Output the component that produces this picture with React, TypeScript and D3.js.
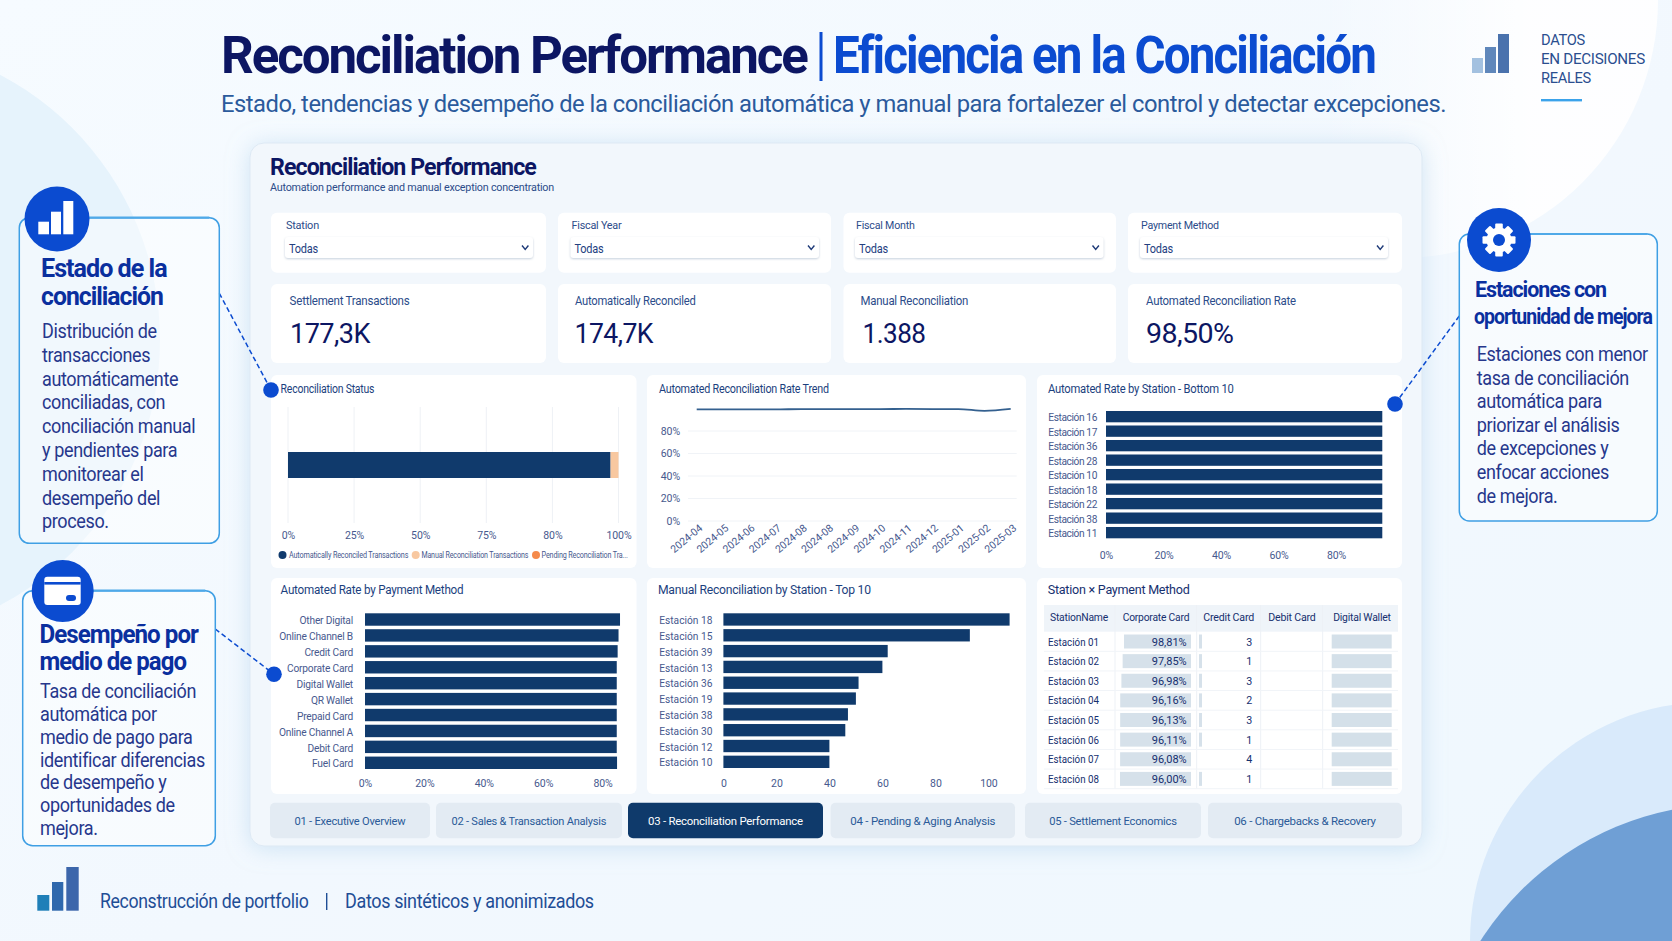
import React, { useEffect, useLayoutEffect, useRef } from 'react';
import * as d3 from 'd3';

const FONT = "Roboto, 'Noto Sans', sans-serif";
const NAVY = '#0c1663';
const BLUE = '#0b4bd0';
const BAR = '#103a6c';
const AXIS = '#47598e';
const INK = '#1f3f7c';

// filters and kpis
const filterLabels = ['Station', 'Fiscal Year', 'Fiscal Month', 'Payment Method'];
const filterValue = 'Todas';
const kpiLabels = ['Settlement Transactions', 'Automatically Reconciled', 'Manual Reconciliation', 'Automated Reconciliation Rate'];
const kpiValues = ['177,3K', '174,7K', '1.388', '98,50%'];

// reconciliation status
const statusKeys = ['Automatically Reconciled Transactions', 'Manual Reconciliation Transactions', 'Pending Reconciliation Tra...'];
const statusValues = [97.6, 2.4, 0];
const statusColors = ['#103a6c', '#f8c8a0', '#f58a4b'];
const statusTicks = [0, 20, 40, 60, 80, 100];
const statusTickLabels = ['0%', '25%', '50%', '75%', '80%', '100%'];

// trend
const trendMonths = ['2024-04', '2024-05', '2024-06', '2024-07', '2024-08', '2024-08', '2024-09', '2024-10', '2024-11', '2024-12', '2025-01', '2025-02', '2025-03'];
const trendRates = [99.3, 99.2, 99.2, 99.2, 99.5, 99.5, 99.5, 99.5, 99.6, 99.5, 99.5, 97.9, 99.6];
const trendTicks = [0, 20, 40, 60, 80];

// bar charts
const bottomStations = ['Estación 16', 'Estación 17', 'Estación 36', 'Estación 28', 'Estación 10', 'Estación 18', 'Estación 22', 'Estación 38', 'Estación 11'];
const bottomRates = [96.1, 96.1, 96.1, 96.1, 96.1, 96.1, 96.1, 96.1, 96.1];
const paymentMethods = ['Other Digital', 'Online Channel B', 'Credit Card', 'Corporate Card', 'Digital Wallet', 'QR Wallet', 'Prepaid Card', 'Online Channel A', 'Debit Card', 'Fuel Card'];
const paymentRates = [85.9, 85.4, 85.1, 84.8, 84.8, 84.8, 84.8, 84.8, 84.8, 84.9];
const manualStations = ['Estación 18', 'Estación 15', 'Estación 39', 'Estación 13', 'Estación 36', 'Estación 19', 'Estación 38', 'Estación 30', 'Estación 12', 'Estación 10'];
const manualCounts = [108, 93, 62, 60, 51, 50, 47, 46, 40, 40];

// table
const tableHeaders = ['StationName', 'Corporate Card', 'Credit Card', 'Debit Card', 'Digital Wallet'];
const tableStations = ['Estación 01', 'Estación 02', 'Estación 03', 'Estación 04', 'Estación 05', 'Estación 06', 'Estación 07', 'Estación 08'];
const corporateRates = [98.81, 97.85, 96.98, 96.16, 96.13, 96.11, 96.08, 96.0];
const creditCounts = [3, 1, 3, 2, 3, 1, 4, 1];
const creditBars = [1, 1, 1, 1, 1, 1, 0, 1];
const digitalBars = [1, 1, 1, 1, 1, 1, 1, 1];

const tabLabels = ['01 - Executive Overview', '02 - Sales & Transaction Analysis', '03 - Reconciliation Performance', '04 - Pending & Aging Analysis', '05 - Settlement Economics', '06 - Chargebacks & Recovery'];

const fmtPct = (v: number) => v.toFixed(2).replace('.', ',') + '%';

// squeeze a text horizontally to the width it has in the reference
const fitText = (el: SVGTextElement, x: number, y: number, w: number, anchor = 'start') => {
    const len = el.getComputedTextLength();
    const dx = anchor === 'end' ? x - w : x;
    el.setAttribute('text-anchor', 'start');
    el.setAttribute('transform', `translate(${dx},${y}) scale(${w / len},1)`);
};

const Txt = ({ x, y, size, w, fill = INK, weight = 400, tight = 0.02, children }: any) => {
    const ref = useRef<SVGTextElement | null>(null);
    useLayoutEffect(() => {
        if (ref.current) fitText(ref.current, x, y, w);
    }, []);
    return (
        <text ref={ref} fontSize={size} fontWeight={weight} fill={fill} fontFamily={FONT} letterSpacing={-tight * size}>
            {children}
        </text>
    );
};

const Lines = ({ x, start, step, size, k, lines, fill = '#26378c' }: any) => (
    <g transform={`translate(${x},0) scale(${k},1)`}>
        {lines.map((l: string, i: number) => (
            <text key={i} x={0} y={start + i * step} fontSize={size} fill={fill} fontFamily={FONT} letterSpacing={-0.39}>
                {l}
            </text>
        ))}
    </g>
);

const useD3 = (draw: (g: any) => void) => {
    const ref = useRef<SVGGElement | null>(null);
    useEffect(() => {
        const g = d3.select(ref.current);
        g.selectAll('*').remove();
        draw(g);
    }, []);
    return ref;
};

const styleAxis = (sel: any, size: number, spacing = -0.1) => {
    sel.select('.domain').remove();
    sel.selectAll('text')
        .attr('fill', AXIS)
        .attr('font-size', size)
        .attr('font-family', FONT)
        .attr('letter-spacing', spacing);
};

const HBar = ({ labels, values, domain, range, top, bottom, gap, tickVals, pct, tickBase, labelGap, labelSpacing = -0.2 }: any) => {
    const ref = useD3((g) => {
        const x = d3.scaleLinear().domain(domain).range(range);
        const y = d3.scaleBand<string>().domain(labels).range([top, bottom]).paddingInner(gap);
        g.selectAll('rect')
            .data(values)
            .enter()
            .append('rect')
            .attr('x', x(0))
            .attr('y', (_: number, i: number) => y(labels[i]))
            .attr('width', (d: number) => x(d) - x(0))
            .attr('height', y.bandwidth())
            .attr('fill', BAR);
        g.append('g')
            .attr('transform', `translate(${x(0)},1.4)`)
            .call(d3.axisLeft(y).tickSize(0).tickPadding(labelGap))
            .call((s: any) => styleAxis(s, 10.2, labelSpacing));
        g.append('g')
            .attr('transform', `translate(0,${tickBase - 7.5})`)
            .call(
                d3.axisBottom(x)
                    .tickValues(tickVals)
                    .tickSize(0)
                    .tickPadding(0)
                    .tickFormat((d: any) => (pct ? `${d}%` : `${d}`)),
            )
            .call((s: any) => styleAxis(s, 10.5));
    });
    return <g ref={ref} />;
};

const StatusChart = () => {
    const ref = useD3((g) => {
        const x = d3.scaleLinear().domain([0, 100]).range([288, 618.5]);
        const row: any = {};
        statusKeys.forEach((k, i) => (row[k] = statusValues[i]));
        const stacked = d3.stack().keys(statusKeys)([row]);
        g.selectAll('line')
            .data(statusTicks)
            .enter()
            .append('line')
            .attr('x1', (d: number) => x(d))
            .attr('x2', (d: number) => x(d))
            .attr('y1', 407)
            .attr('y2', 523)
            .attr('stroke', '#eef1f5');
        g.selectAll('rect')
            .data(stacked)
            .enter()
            .append('rect')
            .attr('x', (s: any) => x(s[0][0]))
            .attr('width', (s: any) => x(s[0][1]) - x(s[0][0]))
            .attr('y', 452)
            .attr('height', 26)
            .attr('fill', (_: any, i: number) => statusColors[i]);
        g.append('g')
            .attr('transform', 'translate(0,531.5)')
            .call(
                d3.axisBottom(x)
                    .tickValues(statusTicks)
                    .tickSize(0)
                    .tickPadding(0)
                    .tickFormat((_: any, i: number) => statusTickLabels[i]),
            )
            .call((s: any) => styleAxis(s, 10.5));
    });
    return <g ref={ref} />;
};

const TrendChart = () => {
    const ref = useD3((g) => {
        const x = d3.scalePoint<number>().domain(trendMonths.map((_, i) => i)).range([696.7, 1010.7]);
        const y = d3.scaleLinear().domain([0, 80]).range([521, 431]);
        g.selectAll('line')
            .data(trendTicks)
            .enter()
            .append('line')
            .attr('x1', 688)
            .attr('x2', 1016.7)
            .attr('y1', (d: number) => y(d))
            .attr('y2', (d: number) => y(d))
            .attr('stroke', '#f0f3f7');
        const line = d3
            .line<number>()
            .x((_, i) => x(i)!)
            .y((d) => y(d))
            .curve(d3.curveMonotoneX);
        g.append('path').datum(trendRates).attr('d', line).attr('fill', 'none').attr('stroke', '#34608f').attr('stroke-width', 1.8);
        g.append('g')
            .attr('transform', 'translate(688,0)')
            .call(d3.axisLeft(y).tickValues(trendTicks).tickSize(0).tickPadding(8).tickFormat((d: any) => `${d}%`))
            .call((s: any) => styleAxis(s, 10.5));
        g.append('g')
            .attr('transform', 'translate(3.5,526.5)')
            .call(d3.axisBottom(x).tickSize(0).tickPadding(0).tickFormat((i: any) => trendMonths[i]))
            .call((s: any) => styleAxis(s, 10.5))
            .selectAll('text')
            .attr('text-anchor', 'end')
            .attr('y', 0)
            .attr('dy', '0.35em')
            .attr('transform', 'rotate(-40)');
    });
    return <g ref={ref} />;
};

const StationTable = () => {
    const ref = useD3((g) => {
        const rowY = d3.scaleBand<string>().domain(tableStations).range([631.7, 788.7]);
        const h = 14;
        const top = (s: string) => rowY(s)! + (rowY.bandwidth() - h) / 2;
        // corporate bars grow from the right, longer for the lower rates
        const corpW = d3.scaleLinear().domain([96, 98.81]).range([71, 67]);
        const creditW = d3.scaleLinear().domain([0, 1]).range([0, 3]);
        const digitalW = d3.scaleLinear().domain([0, 1]).range([0, 60]);
        tableStations.forEach((s, i) => {
            g.append('rect').attr('x', 1191 - corpW(corporateRates[i])).attr('y', top(s)).attr('width', corpW(corporateRates[i])).attr('height', h).attr('fill', '#d6e1ea');
            g.append('rect').attr('x', 1199).attr('y', top(s)).attr('width', creditW(creditBars[i])).attr('height', h).attr('fill', '#d6e1ea');
            g.append('rect').attr('x', 1331.7).attr('y', top(s)).attr('width', digitalW(digitalBars[i])).attr('height', h).attr('fill', '#d4e0e9');
            g.append('line').attr('x1', 1044).attr('x2', 1398).attr('y1', rowY(s)! + rowY.bandwidth()).attr('y2', rowY(s)! + rowY.bandwidth()).attr('stroke', '#f1f4f8');
            const mid = rowY(s)! + rowY.bandwidth() / 2 + 4;
            const put = (tx: number, label: string, len: number, anchor = 'start') => {
                const t = g.append('text').attr('font-size', 11.5).attr('font-family', FONT).attr('fill', '#16306f').text(label);
                fitText(t.node(), tx, mid, len, anchor);
            };
            put(1048, s, 51);
            put(1186.7, fmtPct(corporateRates[i]), 35, 'end');
            put(1252.3, `${creditCounts[i]}`, 6, 'end');
        });
    });
    return <g ref={ref} />;
};

const Gear = ({ cx, cy }: any) => (
    <g transform={`translate(${cx},${cy})`}>
        {d3.range(8).map((i) => (
            <rect key={i} x={-3.8} y={-16.5} width={7.6} height={8} rx={1} fill="#fff" transform={`rotate(${i * 45})`} />
        ))}
        <circle r={12.5} fill="#fff" />
        <circle r={6} fill={BLUE} />
    </g>
);

const Card = ({ x, y, w, h }: any) => <rect x={x} y={y} width={w} height={h} rx={6} fill="#fff" />;

const Callout = ({ x, y, w, h }: any) => (
    <g>
        <rect x={x} y={y} width={w} height={h} rx={10} fill="#ffffff" fillOpacity={0.45} stroke="#3f9fe4" strokeWidth={1.5} />
        <line x1={x + 10} x2={x + w - 10} y1={y} y2={y} stroke="#4fa9e8" strokeWidth={2.2} />
    </g>
);

const Connector = ({ x1, y1, x2, y2 }: any) => (
    <g>
        <line x1={x1} y1={y1} x2={x2} y2={y2} stroke={BLUE} strokeWidth={1.5} strokeDasharray="5 3" />
        <circle cx={x2} cy={y2} r={7.8} fill={BLUE} />
    </g>
);

const filterX = [271, 558, 843.5, 1128];
const filterW = [275, 273, 272.5, 274];
const selectX = [285, 570.5, 855, 1140];
const selectW = [248, 248.5, 248.5, 248];
const filterLabelW = [33, 50, 58.6, 78];
const kpiX = [289.6, 575, 860.5, 1146];
const kpiLabelW = [120, 120.7, 107.7, 150];
const kpiValueX = [290, 574.5, 862.5, 1146];
const kpiValueW = [80, 78.5, 63, 87.5];
const tabX = [270, 436, 628, 830.6, 1025, 1208];
const tabW = [160, 186, 195, 184.4, 176, 194];
const tabTextW = [111, 155, 155, 145, 127.7, 141.7];
const headerX = [1079, 1156, 1228.7, 1292, 1362];
const headerW = [58, 66.7, 50.7, 47.3, 57.7];
const columnX = [1115, 1196.7, 1260.7, 1322.7];
const legendDotX = [282.5, 415.7, 536];
const legendTextX = [289, 421.4, 541.6];
const legendTextW = [119.4, 107.2, 86.4];

export default function App() {
    return (
        <svg width={1672} height={941} viewBox="0 0 1672 941" style={{ position: 'absolute', left: 0, top: 0, display: 'block' }}>
            <defs>
                <linearGradient id="bg" x1="0" y1="0" x2="1" y2="1">
                    <stop offset="0" stopColor="#f6fbff" />
                    <stop offset="0.55" stopColor="#f2f8fe" />
                    <stop offset="1" stopColor="#eff8fe" />
                </linearGradient>
                <linearGradient id="glow" x1="0" y1="0" x2="1" y2="0">
                    <stop offset="0.35" stopColor="#ffffff" stopOpacity={0} />
                    <stop offset="0.75" stopColor="#ffffff" stopOpacity={0.9} />
                </linearGradient>
                <filter id="panelShadow" x="-10%" y="-10%" width="120%" height="120%">
                    <feDropShadow dx={0} dy={2} stdDeviation={11} floodColor="#a8cdea" floodOpacity={0.5} />
                </filter>
                <filter id="soft" x="-10%" y="-20%" width="120%" height="150%">
                    <feDropShadow dx={0} dy={1} stdDeviation={0.8} floodColor="#9fb0c6" floodOpacity={0.6} />
                </filter>
            </defs>
            <rect width={1672} height={941} fill="url(#bg)" />
            <circle cx={-140} cy={340} r={300} fill="#e6f3fc" />
            <circle cx={1400} cy={0} r={258} fill="url(#glow)" />
            <circle cx={1709} cy={941} r={239} fill="#d9eafb" />
            <circle cx={1730} cy={1100} r={296} fill="#6f9fd5" />

            {/* heading */}
            <Txt x={221} y={73} size={52} w={586} weight={700} tight={0.04} fill={NAVY}>Reconciliation Performance</Txt>
            <rect x={819.5} y={32} width={3} height={49} fill={BLUE} />
            <Txt x={833} y={73} size={52} w={542} weight={700} tight={0.04} fill={BLUE}>Eficiencia en la Conciliación</Txt>
            <Txt x={221} y={112} size={24} w={1226} fill="#2b5a9c">Estado, tendencias y desempeño de la conciliación automática y manual para fortalezer el control y detectar excepciones.</Txt>

            {/* brand */}
            <rect x={1472} y={58} width={11} height={15} fill="#a3c1e0" />
            <rect x={1485} y={47} width={11} height={26} fill="#5f87bb" />
            <rect x={1498} y={34} width={11} height={39} fill="#4a72ad" />
            <Txt x={1541} y={45} size={15} w={44} fill="#2b4e8f">DATOS</Txt>
            <Txt x={1541} y={64} size={15} w={104} fill="#2b4e8f">EN DECISIONES</Txt>
            <Txt x={1541} y={83} size={15} w={50} fill="#2b4e8f">REALES</Txt>
            <rect x={1541} y={99} width={41} height={2.4} fill="#3ba3ea" />

            {/* dashboard panel */}
            <rect x={250} y={143} width={1172} height={703} rx={14} fill="#f2f7fc" stroke="#dde9f4" filter="url(#panelShadow)" />
            <Txt x={270} y={175} size={23} w={266} weight={700} tight={0.04} fill={NAVY}>Reconciliation Performance</Txt>
            <Txt x={270} y={191} size={11} w={284.5} fill="#2c4c8a">Automation performance and manual exception concentration</Txt>

            {filterLabels.map((l, i) => (
                <g key={l}>
                    <Card x={filterX[i]} y={212.7} w={filterW[i]} h={60} />
                    <Txt x={selectX[i] + 1} y={229} size={11.5} w={filterLabelW[i]} fill="#2c4c8a">{l}</Txt>
                    <rect x={selectX[i]} y={237} width={selectW[i]} height={21} rx={3} fill="#fff" filter="url(#soft)" />
                    <Txt x={selectX[i] + 4} y={253} size={12} w={29} fill="#23407f">{filterValue}</Txt>
                    <path d={`M${selectX[i] + selectW[i] - 11} 245.5l3.2 4l3.2 -4`} fill="none" stroke="#1e3a78" strokeWidth={1.4} />
                </g>
            ))}

            {kpiLabels.map((l, i) => (
                <g key={l}>
                    <Card x={filterX[i]} y={284} w={filterW[i]} h={79} />
                    <Txt x={kpiX[i]} y={305} size={12.5} w={kpiLabelW[i]} fill="#2c4c8a">{l}</Txt>
                    <Txt x={kpiValueX[i]} y={342.7} size={28} w={kpiValueW[i]} fill={NAVY}>{kpiValues[i]}</Txt>
                </g>
            ))}

            {/* chart cards */}
            <Card x={271} y={375} w={365.5} h={193} />
            <Card x={647} y={375} w={379} h={193} />
            <Card x={1037} y={375} w={365} h={193} />
            <Card x={271} y={578} w={365.5} h={216} />
            <Card x={647} y={578} w={379} h={216} />
            <Card x={1037} y={578} w={365} h={216} />

            <Txt x={280.6} y={393} size={13} w={93.8} fill="#1c3f7e">Reconciliation Status</Txt>
            <StatusChart />
            {statusKeys.map((k, i) => (
                <g key={k}>
                    <circle cx={legendDotX[i]} cy={555} r={4} fill={statusColors[i]} />
                    <Txt x={legendTextX[i]} y={558} size={9} w={legendTextW[i]} fill={AXIS}>{k}</Txt>
                </g>
            ))}

            <Txt x={659} y={393} size={13} w={170} fill="#1c3f7e">Automated Reconciliation Rate Trend</Txt>
            <TrendChart />

            <Txt x={1048} y={393} size={13} w={186} fill="#1c3f7e">Automated Rate by Station - Bottom 10</Txt>
            <HBar labels={bottomStations} values={bottomRates} domain={[0, 80]} range={[1106, 1336]} top={411} bottom={538.3} gap={0.22} tickVals={[0, 20, 40, 60, 80]} pct tickBase={559} labelGap={9} labelSpacing={-0.4} />

            <Txt x={280.6} y={594} size={13} w={183} fill="#1c3f7e">Automated Rate by Payment Method</Txt>
            <HBar labels={paymentMethods} values={paymentRates} domain={[0, 80]} range={[365, 602.5]} top={613.3} bottom={769} gap={0.22} tickVals={[0, 20, 40, 60, 80]} pct tickBase={787} labelGap={12} />

            <Txt x={658} y={594} size={13} w={213} fill="#1c3f7e">Manual Reconciliation by Station - Top 10</Txt>
            <HBar labels={manualStations} values={manualCounts} domain={[0, 100]} range={[723.4, 988.4]} top={613.3} bottom={768} gap={0.22} tickVals={[0, 20, 40, 60, 80, 100]} tickBase={787} labelGap={11} labelSpacing={0} />

            <Txt x={1047.7} y={594} size={13.5} w={142} fill="#16306f">Station × Payment Method</Txt>
            <rect x={1044} y={605} width={354} height={26.7} fill="#eff4f9" />
            {columnX.map((cx) => (
                <line key={cx} x1={cx} x2={cx} y1={605} y2={788.7} stroke="#edf1f6" />
            ))}
            {tableHeaders.map((h, i) => (
                <Txt key={h} x={headerX[i] - headerW[i] / 2} y={620.7} size={11} w={headerW[i]} fill="#16306f">{h}</Txt>
            ))}
            <StationTable />

            {tabLabels.map((l, i) => (
                <g key={l}>
                    <rect x={tabX[i]} y={802.7} width={tabW[i]} height={35.6} rx={5} fill={i === 2 ? '#0f3a6b' : '#e3ebf3'} />
                    <Txt x={tabX[i] + (tabW[i] - tabTextW[i]) / 2} y={825} size={11.5} w={tabTextW[i]} fill={i === 2 ? '#ffffff' : '#2a5a98'}>{l}</Txt>
                </g>
            ))}

            {/* left callouts */}
            <Connector x1={219.3} y1={293.3} x2={271} y2={390} />
            <Callout x={19.3} y={217.7} w={200} h={325.6} />
            <circle cx={57} cy={219} r={32.5} fill={BLUE} />
            <rect x={38.3} y={221.7} width={10.7} height={12.6} fill="#fff" />
            <rect x={51} y={211.7} width={10} height={22.6} fill="#fff" />
            <rect x={63.3} y={201} width={10} height={33.3} fill="#fff" />
            <Txt x={41} y={276.7} size={25} w={125.7} weight={700} tight={0.04} fill="#0a2f9e">Estado de la</Txt>
            <Txt x={41} y={305} size={25} w={122} weight={700} tight={0.04} fill="#0a2f9e">conciliación</Txt>
            <Lines x={42} start={338} step={23.8} size={19.5} k={0.924} lines={['Distribución de', 'transacciones', 'automáticamente', 'conciliadas, con', 'conciliación manual', 'y pendientes para', 'monitorear el', 'desempeño del', 'proceso.']} />

            <Connector x1={215.3} y1={629} x2={274} y2={674.3} />
            <Callout x={22.7} y={590.7} w={192.6} h={255} />
            <circle cx={62.7} cy={591} r={31} fill={BLUE} />
            <rect x={44.3} y={576.7} width={36.4} height={28.3} rx={3} fill="#fff" />
            <rect x={44.3} y={582} width={36.4} height={2.6} fill={BLUE} />
            <rect x={66} y={595} width={10} height={6} rx={3} fill={BLUE} />
            <Txt x={39.5} y={643.3} size={25} w={158.5} weight={700} tight={0.04} fill="#0a2f9e">Desempeño por</Txt>
            <Txt x={39.5} y={670} size={25} w={146.5} weight={700} tight={0.04} fill="#0a2f9e">medio de pago</Txt>
            <Lines x={40} start={698.3} step={22.8} size={19.5} k={0.924} lines={['Tasa de conciliación', 'automática por', 'medio de pago para', 'identificar diferencias', 'de desempeño y', 'oportunidades de', 'mejora.']} />

            {/* right callout */}
            <Connector x1={1459.3} y1={316} x2={1395} y2={404} />
            <Callout x={1459.3} y={234} w={198} h={287} />
            <circle cx={1499} cy={240} r={32} fill={BLUE} />
            <Gear cx={1499} cy={240} />
            <Txt x={1475} y={297.3} size={22} w={131} weight={700} tight={0.05} fill="#0a2f9e">Estaciones con</Txt>
            <Txt x={1474} y={324} size={22} w={178} weight={700} tight={0.05} fill="#0a2f9e">oportunidad de mejora</Txt>
            <Lines x={1476.7} start={361} step={23.6} size={19.5} k={0.924} lines={['Estaciones con menor', 'tasa de conciliación', 'automática para', 'priorizar el análisis', 'de excepciones y', 'enfocar acciones', 'de mejora.']} />

            {/* footer */}
            <rect x={37.3} y={895} width={12} height={15.7} fill="#1f7fb8" />
            <rect x={52} y={882} width={11.3} height={28.7} fill="#2f68ad" />
            <rect x={66.3} y={867} width={12.4} height={43.7} fill="#3c66ab" />
            <Txt x={100} y={908} size={20} w={208.5} fill="#1f4e96">Reconstrucción de portfolio</Txt>
            <rect x={326} y={893} width={1.4} height={17} fill="#1f4e96" />
            <Txt x={345} y={908} size={20} w={249} fill="#1f4e96">Datos sintéticos y anonimizados</Txt>
        </svg>
    );
}
